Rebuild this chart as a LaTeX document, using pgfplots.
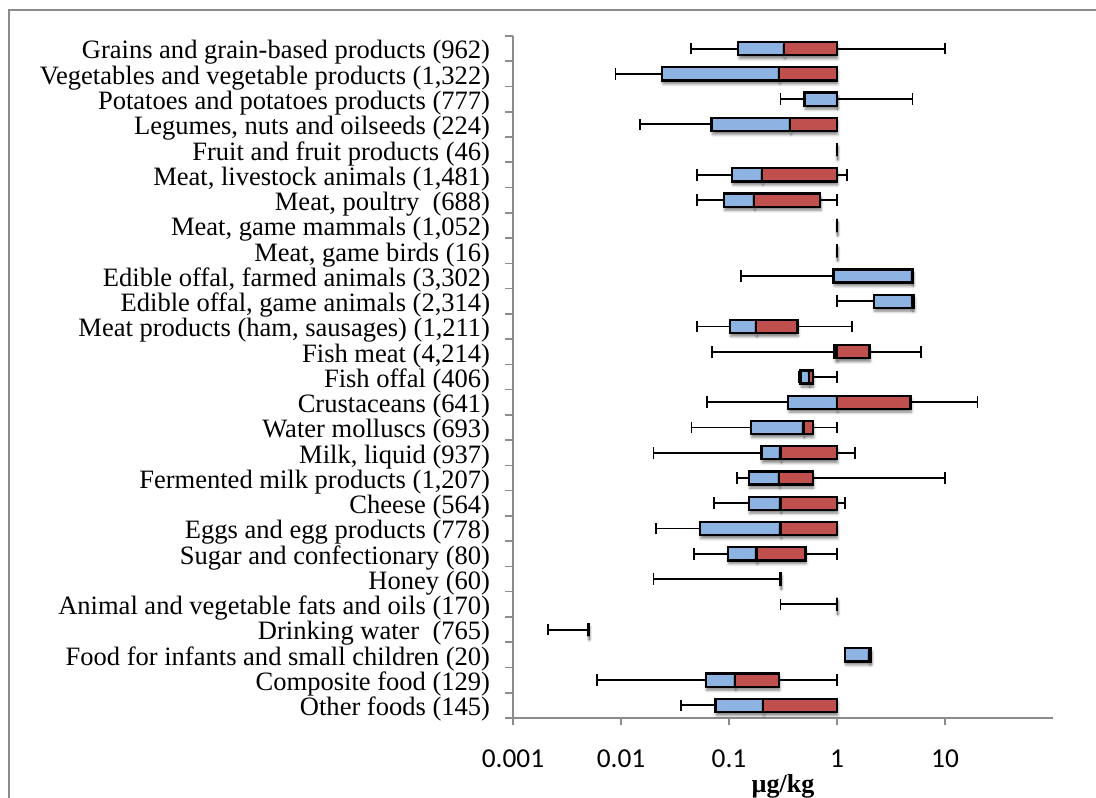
\documentclass[border=0pt]{standalone}
\usepackage{fontspec}
\setmainfont{Liberation Serif}
\newfontfamily\calibri{Carlito}
\usepackage{pgfplots}
\pgfplotsset{compat=1.18}
\usepackage{pgfplotstable}
\usepgfplotslibrary{statistics}
\usetikzlibrary{shadows.blur}

\definecolor{qlow}{HTML}{8DB3E2}
\definecolor{qhigh}{HTML}{C0504D}
\definecolor{framegray}{HTML}{8C8C8C}

% Per food group (top to bottom): lower whisker, first quartile, median,
% third quartile, upper whisker, in micrograms per kg
\pgfplotstableread{
lo q1 med q3 hi
0.0445 0.122 0.325 1.0 10
0.0089 0.024 0.292 1.0 1.0
0.30 0.50 1.0 1.0 5.0
0.015 0.069 0.37 1.0 1.0
1 1 1 1 1
0.051 0.107 0.203 1.0 1.24
0.051 0.090 0.171 0.70 1.0
1 1 1 1 1
1 1 1 1 1
0.129 0.93 5.0 5.0 5.0
1.0 2.19 4.95 5.15 5.15
0.051 0.102 0.179 0.43 1.37
0.070 0.95 1.0 2.0 6.0
0.445 0.46 0.55 0.60 1.0
0.063 0.354 1.0 4.8 20
0.045 0.16 0.49 0.60 1.0
0.020 0.20 0.30 1.0 1.47
0.118 0.152 0.292 0.60 10
0.072 0.152 0.30 1.0 1.18
0.021 0.054 0.30 1.0 1.0
0.0477 0.098 0.18 0.51 1.0
0.020 0.30 0.30 0.30 0.30
0.30 1.0 1.0 1.0 1.0
0.0021 0.005 0.005 0.005 0.005
1.19 1.19 2.0 2.07 2.07
0.006 0.061 0.114 0.29 1.0
0.036 0.075 0.208 1.0 1.0
}\boxdata

\pgfplotsset{
  half/.style={
    boxplot/draw direction=x,
    boxplot/box extend=0.52,
    boxplot/whisker extend=0.46,
    draw=black, line width=1.4pt,
    boxplot/every box/.style={draw=black, fill=#1, line width=1.7pt,
      blur shadow={shadow xshift=0.6pt, shadow yshift=-2.6pt,
        shadow blur radius=2pt, shadow opacity=50}},
    boxplot/every whisker/.style={draw=black, line width=1.4pt},
    boxplot/every median/.style={draw=black, line width=1.7pt},
  },
}

\begin{document}
\begin{tikzpicture}
\useasboundingbox (0,0) rectangle (822pt,598.5pt);
\draw[framegray, line width=1.5pt] (6.5pt,-20pt) -- (6.5pt,591pt) -- (850pt,591pt);
\begin{axis}[
  at={(384.75pt,60pt)}, anchor=south west,
  scale only axis, width=405pt, height=511.5pt,
  xmode=log, xmin=0.001, xmax=100,
  ymin=-0.5, ymax=26.5,
  axis x line*=bottom, axis y line*=left,
  axis line style={framegray, line width=1.2pt, -},
  xtick={0.001,0.01,0.1,1,10},
  xticklabels={0.001,0.01,0.1,1,10},
  xminorticks=false,
  ytick={0,...,26},
  yticklabels={
    Other foods (145),
    Composite food (129),
    Food for infants and small children (20),
    Drinking water\ \ (765),
    Animal and vegetable fats and oils (170),
    Honey (60),
    Sugar and confectionary (80),
    Eggs and egg products (778),
    Cheese (564),
    {Fermented milk products (1,207)},
    {Milk, liquid (937)},
    Water molluscs (693),
    Crustaceans (641),
    Fish offal (406),
    {Fish meat (4,214)},
    {Meat products (ham, sausages) (1,211)},
    {Edible offal, game animals (2,314)},
    {Edible offal, farmed animals (3,302)},
    {Meat, game birds (16)},
    {Meat, game mammals (1,052)},
    {Meat, poultry\ \ (688)},
    {Meat, livestock animals (1,481)},
    Fruit and fruit products (46),
    {Legumes, nuts and oilseeds (224)},
    Potatoes and potatoes products (777),
    {Vegetables and vegetable products (1,322)},
    Grains and grain-based products (962)
  },
  minor ytick={-0.5,0.5,...,26.5},
  tick align=outside,
  major tick length=5pt, minor tick length=6pt,
  tick style={framegray, line width=1.2pt},
  major y tick style={draw=none},
  yticklabel style={font=\fontsize{19.9}{20}\selectfont, inner sep=0pt, anchor=east, xshift=-12pt, yshift=-3pt},
  xticklabel style={font=\calibri\fontsize{20.5}{20.5}\selectfont, inner sep=0pt, anchor=base, yshift=-32.25pt},
  xlabel={µg/kg},
  xlabel style={font=\fontsize{19.5}{20}\selectfont\bfseries, at={(axis description cs:0.5,0)}, anchor=base, yshift=-56pt},
]
% each row: a blue box from Q1 to the median, a red box from the median to Q3
\pgfplotsinvokeforeach{0,...,26}{
  \pgfplotstablegetelem{#1}{lo}\of\boxdata \let\vlo\pgfplotsretval
  \pgfplotstablegetelem{#1}{q1}\of\boxdata \let\vqa\pgfplotsretval
  \pgfplotstablegetelem{#1}{med}\of\boxdata \let\vmed\pgfplotsretval
  \pgfplotstablegetelem{#1}{q3}\of\boxdata \let\vqc\pgfplotsretval
  \pgfplotstablegetelem{#1}{hi}\of\boxdata \let\vhi\pgfplotsretval
  \edef\drawhalves{%
    \noexpand\addplot[boxplot prepared={draw position=\the\numexpr26-#1\relax,
      lower whisker=\vlo, lower quartile=\vqa, median=\vmed,
      upper quartile=\vmed, upper whisker=\vmed}, half=qlow] coordinates {};
    \noexpand\addplot[boxplot prepared={draw position=\the\numexpr26-#1\relax,
      lower whisker=\vmed, lower quartile=\vmed, median=\vmed,
      upper quartile=\vqc, upper whisker=\vhi}, half=qhigh] coordinates {};
  }\drawhalves
}
\end{axis}
\end{tikzpicture}
\end{document}
